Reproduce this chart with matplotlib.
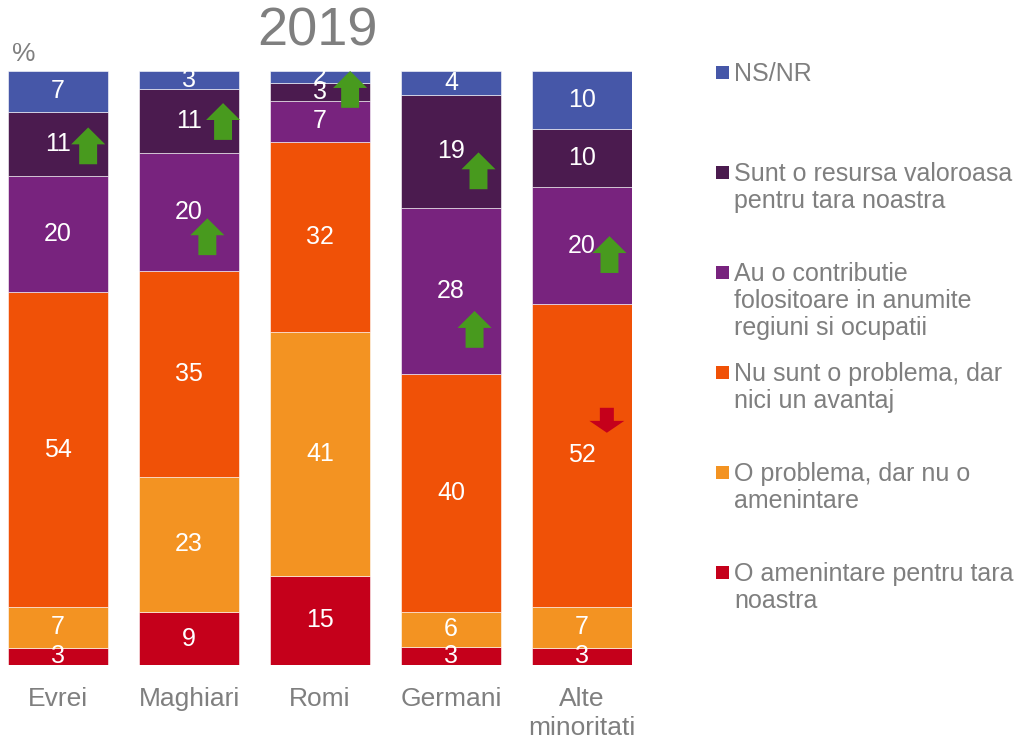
import numpy as np
import matplotlib
matplotlib.use("Agg")
import matplotlib.pyplot as plt
from matplotlib.patches import FancyArrow, Rectangle

plt.rcParams["font.family"] = ["Liberation Sans", "DejaVu Sans"]

categories = ["Evrei", "Maghiari", "Romi", "Germani", "Alte\nminoritati"]

# series from bottom of the stack to the top
series = [
    "O amenintare pentru tara\nnoastra",
    "O problema, dar nu o\namenintare",
    "Nu sunt o problema, dar\nnici un avantaj",
    "Au o contributie\nfolositoare in anumite\nregiuni si ocupatii",
    "Sunt o resursa valoroasa\npentru tara noastra",
    "NS/NR",
]
colors = ["#c5001b", "#f39322", "#f05107", "#78237e", "#4b1b4f", "#4657a8"]

amenintare = [3, 9, 15, 3, 3]
problema = [7, 23, 41, 6, 7]
neutru = [54, 35, 32, 40, 52]
contributie = [20, 20, 7, 28, 20]
resursa = [11, 11, 3, 19, 10]
nsnr = [7, 3, 2, 4, 10]

# trend arrows: (category index, x offset, tail y in %)
arrows_up = [
    (0, 0.23, 84.3),
    (1, 0.26, 88.4),
    (1, 0.14, 69.0),
    (2, 0.23, 93.8),
    (3, 0.21, 80.1),
    (3, 0.18, 53.4),
    (4, 0.21, 66.0),
]
arrows_down = [
    (4, 0.19, 43.3),
]

values = np.array([amenintare, problema, neutru, contributie, resursa, nsnr], dtype=float)
pct = values / values.sum(axis=0) * 100

fig = plt.figure(figsize=(10.19, 7.42), dpi=100)
ax = fig.add_axes([8 / 1019, 1 - 665 / 742, 624 / 1019, 594 / 742])

x = np.arange(len(categories))
bottom = np.zeros(len(categories))
for i, name in enumerate(series):
    ax.bar(x, pct[i], bottom=bottom, width=0.764, color=colors[i],
           edgecolor="#ffffff", linewidth=0.4)
    for j in range(len(categories)):
        ax.text(x[j], bottom[j] + pct[i, j] / 2, "%d" % values[i, j],
                ha="center", va="center", color="white", fontsize=18)
    bottom += pct[i]

for c, dx, y0 in arrows_up:
    ax.add_patch(FancyArrow(c + dx, y0, 0, 6.2, width=0.137, head_width=0.26,
                            head_length=2.85, length_includes_head=True,
                            color="#489a1e", lw=0))
for c, dx, y0 in arrows_down:
    ax.add_patch(FancyArrow(c + dx, y0, 0, -4.2, width=0.107, head_width=0.267,
                            head_length=2.0, length_includes_head=True,
                            color="#c5001b", lw=0))

ax.set_xlim(-0.382, len(categories) - 1 + 0.382)
ax.set_ylim(0, 100)
ax.set_xticks(x)
ax.set_xticklabels(categories, fontsize=19, color="#7f7f7f", linespacing=1.25)
ax.tick_params(axis="x", length=0, pad=16)
ax.set_yticks([])
for s in ax.spines.values():
    s.set_visible(False)

fig.text(318 / 1019, 1 - 31 / 742, "2019", ha="center", va="center",
         fontsize=39, color="#7f7f7f")
fig.text(12 / 1019, 1 - 54 / 742, "%", ha="left", va="center",
         fontsize=19, color="#7f7f7f")

# legend, top entry first
for k, i in enumerate(range(len(series) - 1, -1, -1)):
    ytop = 66 + k * 100
    fig.add_artist(Rectangle((716 / 1019, 1 - (ytop + 13) / 742), 13 / 1019, 13 / 742,
                             transform=fig.transFigure, color=colors[i], lw=0))
    fig.text(734 / 1019, 1 - (ytop - 4) / 742, series[i], ha="left", va="top",
             fontsize=18, color="#7f7f7f", linespacing=1.15)

fig.savefig("out.png", dpi=100)
